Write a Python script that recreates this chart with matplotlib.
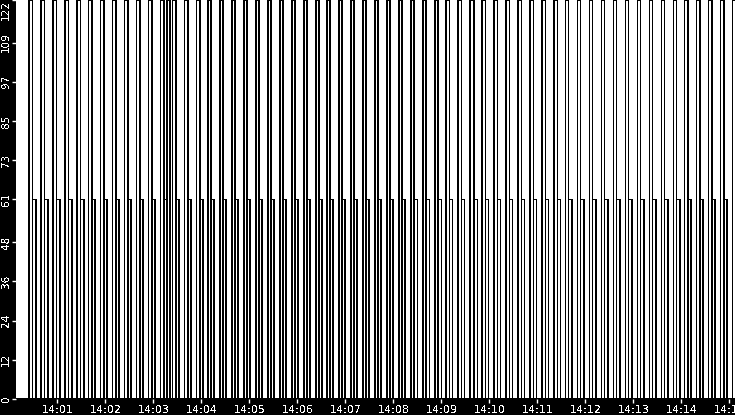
import numpy as np
import matplotlib.pyplot as plt

# spike start times, seconds after 14:00:00
a_times = [25, 40, 55, 70, 85, 99, 114, 129, 144, 159, 174, 189, 197, 204, 219,
           234, 248, 263, 278, 293, 308, 323, 338, 353, 368, 383, 397, 412, 427,
           442, 457, 472, 487, 502, 517, 532, 546, 561, 576, 577, 591, 606, 621,
           636, 651, 666, 681, 695, 710, 725, 740, 755, 770, 785, 800, 815, 830,
           844, 859, 874, 889, 904]
b_times = [29, 44, 59, 74, 89, 103, 118, 133, 148, 163, 178, 193, 208, 223,
           238, 252, 267, 282, 297, 312, 327, 342, 357, 372, 387, 401, 416, 431,
           446, 461, 476, 491, 506, 521, 536, 550, 565, 581, 595, 610, 625,
           640, 655, 670, 685, 699, 714, 729, 744, 759, 774, 789, 804, 819, 834,
           848, 863, 878, 893]
a_height = 122
b_height = 61
a_len = 4   # seconds each spike stays up
b_len = 4

y_ticks = [0, 12, 24, 36, 48, 61, 73, 85, 97, 109, 122]
x_minutes = list(range(1, 16))
x_labels = ['14:%02d' % m for m in x_minutes]

plt.rcParams['text.antialiased'] = False

t = np.arange(8, 908, 0.25)
a = np.zeros_like(t)
b = np.zeros_like(t)
for s in a_times:
    a[(t >= s) & (t < s + a_len)] = a_height
for s in b_times:
    b[(t >= s) & (t < s + b_len)] = b_height

fig = plt.figure(figsize=(7.35, 4.15), dpi=100, facecolor='black')
ax = fig.add_axes([16 / 735, 16 / 415, 719 / 735, 399 / 415])
ax.set_facecolor('white')
ax.plot(t, a, color='black', lw=0.5, drawstyle='steps-post', antialiased=False)
ax.plot(t, b, color='black', lw=0.5, drawstyle='steps-post', antialiased=False)

ax.set_xlim(8.4, 907)
ax.set_ylim(0, 122)
for sp in ax.spines.values():
    sp.set_visible(False)

ax.set_yticks(y_ticks)
ax.set_yticklabels([str(v) for v in y_ticks], rotation=90, va='center')
ax.get_yticklabels()[-1].set_va('top')
ax.set_xticks([m * 60 for m in x_minutes])
ax.set_xticklabels(x_labels)
ax.tick_params(colors='white', length=3, width=1, pad=1)
ax.tick_params(axis='x', labelsize=8)
ax.tick_params(axis='y', labelsize=7.5, pad=0.5)

fig.savefig('out.png', dpi=100, facecolor='black')
